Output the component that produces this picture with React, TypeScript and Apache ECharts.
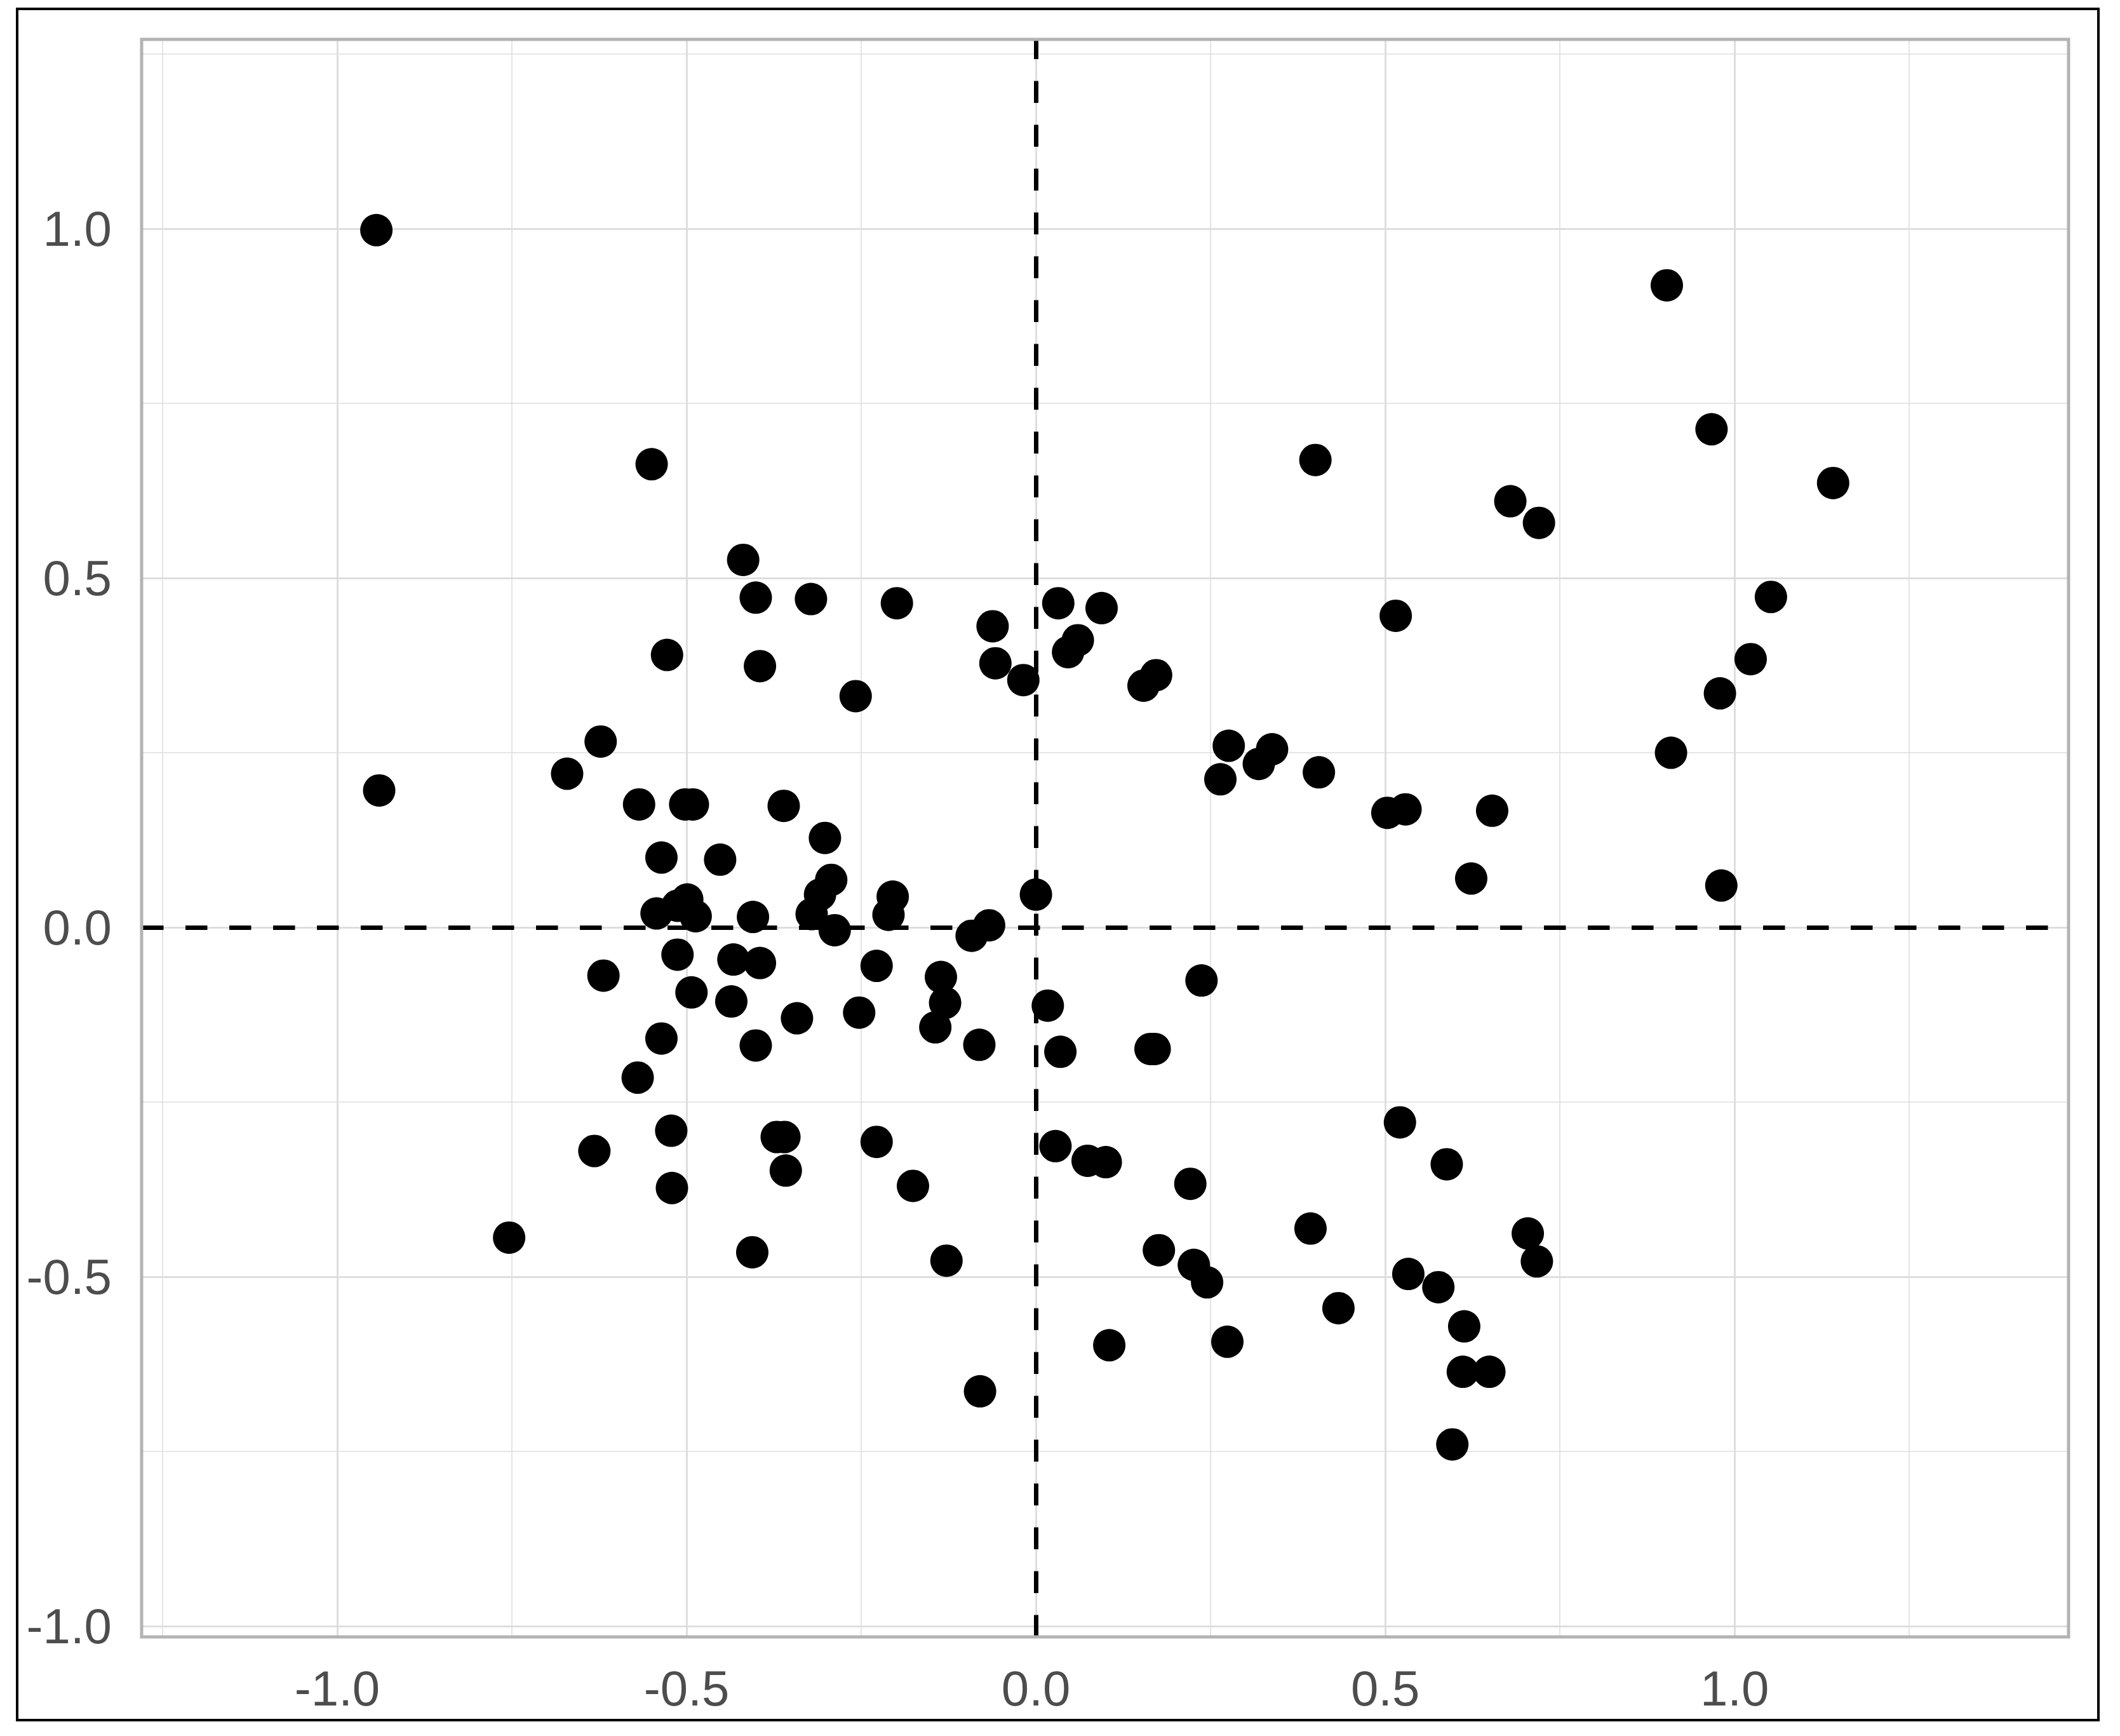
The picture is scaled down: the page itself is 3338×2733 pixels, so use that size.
import React, { useEffect, useRef } from "react";
import * as echarts from "echarts";

const xValues: number[] = [
  -0.944, -0.94, -0.754, -0.55, -0.419, -0.401, -0.322, -0.199, -0.528, -0.395,
  -0.258, -0.623, -0.671, -0.568, -0.502, -0.491, -0.361, -0.302, -0.452, -0.536,
  -0.293, -0.309, -0.205, -0.543, -0.513, -0.499, -0.487, -0.405, -0.321, -0.288,
  -0.211, -0.619, -0.513, -0.493, -0.433, -0.395, -0.436, -0.228, -0.342, -0.253,
  -0.536, -0.401, -0.57, -0.522, -0.371, -0.36, -0.632, -0.358, -0.521, -0.228,
  -0.176, -0.406, -0.128, -0.08, -0.136, -0.13, -0.144, -0.081, -0.092, -0.067,
  0.0, -0.062, -0.058, -0.018, 0.032, 0.094, 0.06, 0.046, 0.154, 0.172,
  0.276, 0.264, 0.319, 0.338, 0.405, 0.4, 0.515, 0.503, 0.529, 0.653,
  0.623, 0.679, 0.72, 0.903, 0.967, 1.141, 1.052, 1.023, 0.979, 0.909,
  0.981, 0.017, 0.035, 0.237, 0.164, 0.17, 0.028, 0.074, 0.1, 0.221,
  0.176, 0.226, 0.245, 0.105, 0.274, 0.393, 0.433, 0.521, 0.588, 0.533,
  0.576, 0.613, 0.611, 0.649, 0.596, 0.704, 0.717,
];

const yValues: number[] = [
  0.998, 0.196, -0.444, 0.663, 0.526, 0.472, 0.47, 0.464, 0.39, 0.374,
  0.331, 0.266, 0.22, 0.176, 0.176, 0.176, 0.174, 0.128, 0.097, 0.1,
  0.068, 0.047, 0.044, 0.02, 0.031, 0.04, 0.016, 0.015, 0.019, -0.004,
  0.018, -0.069, -0.039, -0.093, -0.046, -0.051, -0.106, -0.055, -0.13, -0.122,
  -0.159, -0.169, -0.215, -0.291, -0.3, -0.3, -0.32, -0.348, -0.373, -0.307,
  -0.37, -0.465, -0.477, -0.664, -0.071, -0.108, -0.143, -0.168, -0.012, 0.003,
  0.047, 0.431, 0.378, 0.354, 0.464, 0.457, 0.411, 0.394, 0.346, 0.361,
  0.26, 0.212, 0.234, 0.255, 0.222, 0.669, 0.446, 0.164, 0.169, 0.167,
  0.07, 0.61, 0.579, 0.919, 0.713, 0.636, 0.473, 0.384, 0.335, 0.25,
  0.06, -0.112, -0.178, -0.076, -0.174, -0.174, -0.313, -0.334, -0.336, -0.367,
  -0.462, -0.483, -0.508, -0.598, -0.593, -0.431, -0.545, -0.279, -0.339, -0.496,
  -0.515, -0.571, -0.636, -0.636, -0.74, -0.438, -0.478,
];

const xTicks: number[] = [-1, -0.5, 0, 0.5, 1];
const yTicks: number[] = [-1, -0.5, 0, 0.5, 1];
const xMinor: number[] = [-1.25, -0.75, -0.25, 0.25, 0.75, 1.25];
const yMinor: number[] = [-0.75, -0.25, 0.25, 0.75, 1.25];
const refLines = { x: 0, y: 0 };

const W = 3338;
const H = 2733;

export default function App() {
  const ref = useRef<HTMLDivElement>(null);

  useEffect(() => {
    if (!ref.current) return;
    const chart = echarts.init(ref.current, undefined, { renderer: "svg" });
    const points = xValues.map((x, i) => [x, yValues[i]]);
    const font = "'Liberation Sans', Arial, sans-serif";
    const labelStyle = {
      color: "#4d4d4d",
      fontSize: 78,
      fontFamily: font,
      formatter: (v: number) => Number(v).toFixed(1),
    };
    const noLabel = { show: false };

    chart.setOption({
      animation: false,
      backgroundColor: "#ffffff",
      grid: {
        left: 223,
        right: W - 3257,
        top: 62,
        bottom: H - 2577,
        show: true,
        borderColor: "#b3b3b3",
        borderWidth: 5,
        backgroundColor: "transparent",
        z: 4,
      },
      xAxis: {
        type: "value",
        min: -1.28,
        max: 1.478,
        splitLine: { show: false },
        axisLine: { show: false },
        axisTick: {
          show: true,
          length: 24,
          customValues: xTicks,
          lineStyle: { color: "#b3b3b3", width: 3 },
        },
        axisLabel: { ...labelStyle, margin: 42, customValues: xTicks },
      },
      yAxis: {
        type: "value",
        min: -1.0155,
        max: 1.271,
        splitLine: { show: false },
        axisLine: { show: false },
        axisTick: {
          show: true,
          length: 24,
          customValues: yTicks,
          lineStyle: { color: "#b3b3b3", width: 3 },
        },
        axisLabel: { ...labelStyle, margin: 47, customValues: yTicks },
      },
      graphic: [
        {
          type: "rect",
          shape: { x: 27, y: 14, width: 3277, height: 2694 },
          style: { fill: "none", stroke: "#000000", lineWidth: 4 },
          silent: true,
        },
      ],
      series: [
        {
          type: "scatter",
          data: [],
          z: 1,
          silent: true,
          markLine: {
            silent: true,
            z: 1,
            animation: false,
            symbol: ["none", "none"],
            label: noLabel,
            lineStyle: { color: "#dedede", width: 1.6, type: "solid" },
            data: [
              ...xMinor.map((v) => ({ xAxis: v })),
              ...yMinor.map((v) => ({ yAxis: v })),
            ],
          },
        },
        {
          type: "scatter",
          data: [],
          z: 1,
          silent: true,
          markLine: {
            silent: true,
            z: 2,
            animation: false,
            symbol: ["none", "none"],
            label: noLabel,
            lineStyle: { color: "#dedede", width: 3, type: "solid" },
            data: [
              ...xTicks.map((v) => ({ xAxis: v })),
              ...yTicks.map((v) => ({ yAxis: v })),
            ],
          },
        },
        {
          type: "scatter",
          data: [],
          z: 2,
          silent: true,
          markLine: {
            silent: true,
            z: 3,
            animation: false,
            symbol: ["none", "none"],
            label: noLabel,
            lineStyle: { color: "#000000", width: 7, type: [34.5, 34.5] },
            data: [{ xAxis: refLines.x }, { yAxis: refLines.y }],
          },
        },
        {
          type: "scatter",
          data: points,
          z: 5,
          symbol: "circle",
          symbolSize: 51,
          itemStyle: { color: "#000000", opacity: 1 },
          silent: true,
        },
      ],
    });
    return () => chart.dispose();
  }, []);

  return (
    <div
      ref={ref}
      style={{ position: "fixed", left: 0, top: 0, width: W, height: H, background: "#fff" }}
    />
  );
}
